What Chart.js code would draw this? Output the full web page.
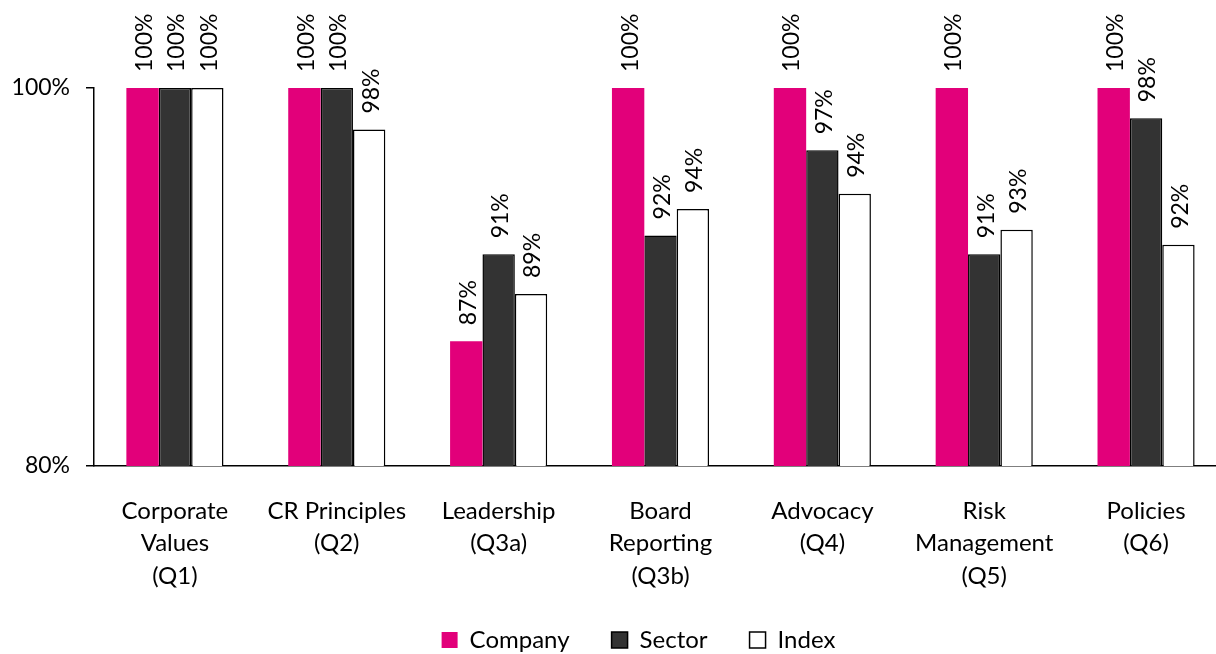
<!DOCTYPE html>
<html>
<head>
<meta charset="utf-8">
<script src="https://cdn.jsdelivr.net/npm/chart.js@4/dist/chart.umd.min.js"></script>
<style>
  body { margin: 0; overflow: hidden; background: #fff; }
  #wrap { width: 1232px; height: 654px; }
</style>
</head>
<body>
<div id="wrap"><canvas id="graphique"></canvas></div>
<script>
// categories de l'axe x
const categories = [
  ["Corporate", "Values", "(Q1)"],
  ["CR Principles", "(Q2)"],
  ["Leadership", "(Q3a)"],
  ["Board", "Reporting", "(Q3b)"],
  ["Advocacy", "(Q4)"],
  ["Risk", "Management", "(Q5)"],
  ["Policies", "(Q6)"],
];

// valeurs (en %)
const company = [100, 100, 86.6, 100, 100, 100, 100];
const sector = [100, 100, 91.2, 92.2, 96.7, 91.2, 98.4];
const index = [100, 97.8, 89.1, 93.6, 94.4, 92.5, 91.7];

const yTicks = [80, 100];

const police = "Lato, 'Open Sans', sans-serif";
const tailleTexte = 24;
const tailleNombres = 23;

// etiquettes verticales au dessus des barres
const etiquettes = {
  id: "etiquettes",
  afterDatasetsDraw(chart) {
    const ctx = chart.ctx;
    ctx.save();
    ctx.font = tailleNombres + "px " + police;
    ctx.fillStyle = "#000";
    ctx.textAlign = "left";
    ctx.textBaseline = "middle";
    chart.data.datasets.forEach((ds, i) => {
      const meta = chart.getDatasetMeta(i);
      meta.data.forEach((bar, j) => {
        ctx.save();
        ctx.translate(bar.x + 2, bar.y - 16);
        ctx.rotate(-Math.PI / 2);
        ctx.fillText(Math.round(ds.data[j]) + "%", 0, 0);
        ctx.restore();
      });
    });
    ctx.restore();
  },
};

// on recentre la legende sous la zone du graphique
const placeLegende = {
  id: "placeLegende",
  afterLayout(chart) {
    chart.legend.left += 50;
    chart.legend.top = 586;
  },
};

const data = {
  labels: categories,
  datasets: [
    {
      label: "Company",
      data: company,
      backgroundColor: "#e2007a",
      borderWidth: 0,
    },
    {
      label: "Sector",
      data: sector,
      backgroundColor: "#333333",
      borderColor: "#000",
      borderWidth: 1.5,
    },
    {
      label: "Index",
      data: index,
      backgroundColor: "#ffffff",
      borderColor: "#000",
      borderWidth: 1.5,
    },
  ],
};

const config = {
  type: "bar",
  data: data,
  plugins: [etiquettes, placeLegende],
  options: {
    responsive: true,
    maintainAspectRatio: false,
    animation: false,
    layout: { padding: { left: 0, top: 88, right: 5, bottom: -18 } },
    datasets: { bar: { barPercentage: 1, categoryPercentage: 0.6 } },
    plugins: {
      tooltip: { enabled: false },
      legend: {
        position: "bottom",
        labels: {
          boxWidth: 16,
          boxHeight: 16,
          padding: 42,
          color: "#000",
          font: { family: police, size: tailleTexte },
        },
      },
    },
    scales: {
      x: {
        grid: { drawOnChartArea: false, drawTicks: false },
        border: { color: "#000", width: 1.5 },
        ticks: {
          color: "#000",
          padding: 29,
          maxRotation: 0,
          autoSkip: false,
          font: { family: police, size: tailleTexte, lineHeight: 1.35 },
        },
        afterFit: (scale) => { scale.height = 130; },
      },
      y: {
        min: 80,
        max: 100,
        afterBuildTicks: (scale) => {
          scale.ticks = yTicks.map((v) => ({ value: v }));
        },
        grid: { drawOnChartArea: false, tickLength: 8, color: "#000", lineWidth: 1.5 },
        border: { color: "#000", width: 1.5 },
        ticks: {
          color: "#000",
          padding: 16,
          callback: (v) => v + "%",
          font: { family: police, size: tailleNombres },
        },
        afterFit: (scale) => { scale.width = 94; },
      },
    },
  },
};

new Chart(document.querySelector("#graphique"), config);
</script>
</body>
</html>
